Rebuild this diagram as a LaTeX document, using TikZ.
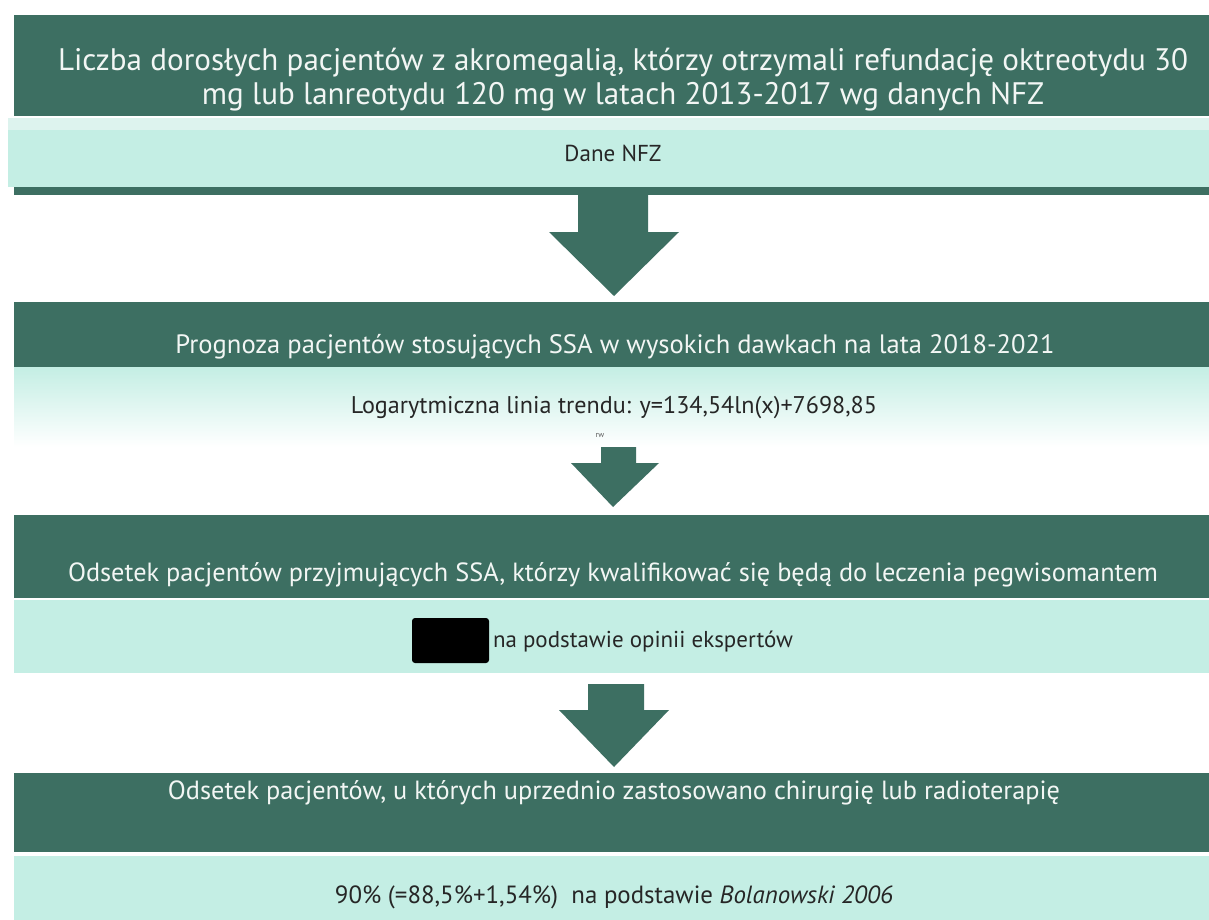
\documentclass[tikz,border=0pt]{standalone}
\usepackage{fontspec}
\setmainfont{PT Sans}
\usepackage{graphicx}
\definecolor{darkg}{HTML}{3D6F62}
\definecolor{mint}{HTML}{C4EEE4}
\definecolor{mintpale}{HTML}{DDF3EE}
\definecolor{darktxt}{HTML}{262626}
\definecolor{lighttxt}{HTML}{F2F6F4}
\tikzset{
  darkbox/.style={fill=darkg, draw=none},
  lightbox/.style={fill=mint, draw=none},
  bigarrow/.style={fill=darkg, draw=none},
  hdtext/.style={inner sep=0pt, text=lighttxt, anchor=center},
  lttext/.style={inner sep=0pt, text=darktxt, anchor=center},
}
\newcommand{\fitw}[2]{\resizebox{#1}{!}{#2}}
\begin{document}
\begin{tikzpicture}[x=1pt,y=-1pt]
\useasboundingbox (0,0) rectangle (1209,920);
\fill[white] (0,0) rectangle (1209,920);
% block 1
\fill[darkbox] (14,15) rectangle (1209,116);
\fill[mintpale] (8,118) rectangle (1209,130);
\fill[lightbox] (8,130) rectangle (1209,187);
\fill[darkbox] (14,187) rectangle (1209,195);
\node[hdtext] (t1) at (623,80) {\fitw{1130pt}{\begin{tabular}{@{}c@{}}Liczba dorosłych pacjentów z akromegalią, którzy otrzymali refundację oktreotydu 30\\[-1pt] mg lub lanreotydu 120 mg w latach 2013-2017 wg danych NFZ\end{tabular}}};
\node[lttext] (s1) at (613,153) {\fitw{97pt}{Dane NFZ}};
% arrow 1
\fill[bigarrow] (578,195) -- (648,195) -- (648,232) -- (679,232) -- (614,296) -- (549,232) -- (578,232) -- cycle;
% block 2
\fill[darkbox] (14,302) rectangle (1209,367);
\shade[top color=mint, bottom color=white] (14,367) rectangle (1209,447);
\node[hdtext] (t2) at (615,347) {\fitw{879pt}{Prognoza pacjentów stosujących SSA w wysokich dawkach na lata 2018-2021}};
\node[lttext] (s2) at (614,408) {\fitw{526pt}{Logarytmiczna linia trendu: y=134,54ln(x)+7698,85}};
\node[inner sep=0pt, text=black!65, font=\fontsize{8}{8}\selectfont] (rw) at (600,436) {rw};
% arrow 2
\fill[bigarrow] (601,447) -- (636,447) -- (636,463) -- (659,463) -- (613,507) -- (571,463) -- (601,463) -- cycle;
% block 3
\fill[darkbox] (14,515) rectangle (1209,598);
\fill[lightbox] (14,600) rectangle (1209,673);
\node[hdtext] (t3) at (613,575) {\fitw{1090pt}{Odsetek pacjentów przyjmujących SSA, którzy kwalifikować się będą do leczenia pegwisomantem}};
\node[lttext] (s3) at (643,642) {\fitw{300pt}{na podstawie opinii ekspertów}};
\fill[black, rounded corners=3pt] (412,618) rectangle (489,663);
% arrow 3
\fill[bigarrow] (588,684) -- (644,684) -- (644,710) -- (669,710) -- (614,767) -- (559,710) -- (588,710) -- cycle;
% block 4
\fill[darkbox] (14,773) rectangle (1209,852);
\fill[lightbox] (14,856) rectangle (1209,920);
\node[hdtext] (t4) at (614,793) {\fitw{892pt}{Odsetek pacjentów, u których uprzednio zastosowano chirurgię lub radioterapię}};
\node[lttext] (s4) at (614,897) {\fitw{558pt}{90\% (=88,5\%+1,54\%)\ \ na podstawie \textit{Bolanowski 2006}}};
\end{tikzpicture}
\end{document}
